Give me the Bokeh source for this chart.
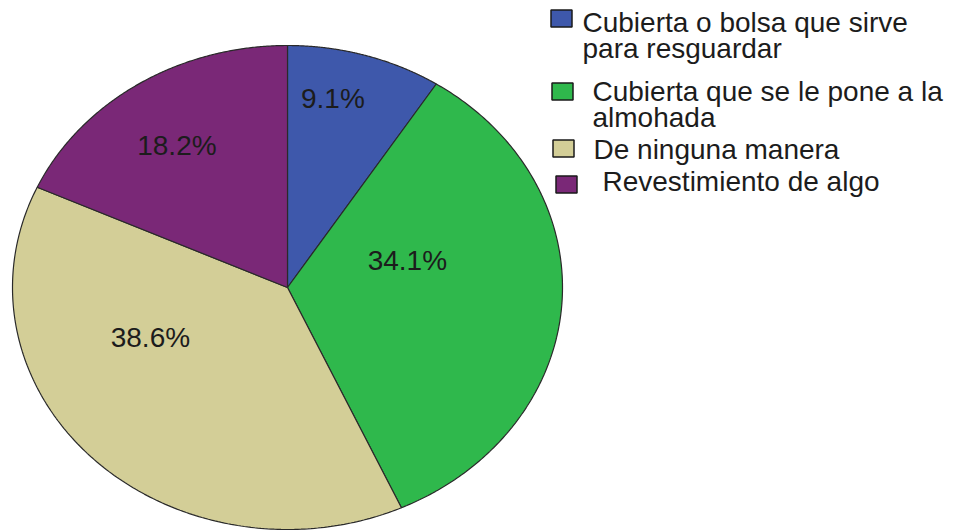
import numpy as np
from bokeh.plotting import figure
from bokeh.models import Range1d
from bokeh.core.properties import value
from bokeh.embed import file_html
from bokeh.resources import INLINE

# ---- data ----
categories = [
    "Cubierta o bolsa que sirve\npara resguardar",
    "Cubierta que se le pone a la\nalmohada",
    "De ninguna manera",
    "Revestimiento de algo",
]
percentages = [9.1, 34.1, 38.6, 18.2]
colors = ["#3e58ab", "#2fb84c", "#d3ce97", "#7a2877"]

# ---- layout (page pixels) ----
W, H = 955, 531
CX, CY, RX, RY = 287, 287, 275, 242
FONT = "Liberation Sans"
# label placement: (angle clockwise from 12 o'clock in degrees, fraction of radius)
label_polar = [(11.9, 0.80), (75.6, 0.45), (247.4, 0.54), (325.5, 0.71)]
# legend layout
leg_sq = [(561, 18), (562, 91), (563, 148), (566, 184)]
leg_txt = [(582, 6), (592, 75), (593, 133), (602, 165)]

p = figure(width=W, height=H, output_backend="svg", toolbar_location=None,
           x_range=Range1d(0, W), y_range=Range1d(H, 0),
           min_border=0, outline_line_color=None)
p.axis.visible = False
p.grid.visible = False
p.background_fill_color = "white"

# pie slices as elliptical wedges
total = sum(percentages)
ends = np.cumsum(percentages) / total * 2 * np.pi
starts = np.concatenate([[0], ends[:-1]])
xs, ys = [], []
for a0, a1 in zip(starts, ends):
    t = np.linspace(a0, a1, 200)
    xs.append(np.concatenate([[CX], CX + RX * np.sin(t), [CX]]).tolist())
    ys.append(np.concatenate([[CY], CY - RY * np.cos(t), [CY]]).tolist())
p.patches(xs, ys, fill_color=colors, line_color="#2a2a2a", line_width=1.2)

# percentage labels
lx, ly, lt = [], [], []
for (ang, fr), v in zip(label_polar, percentages):
    a = np.deg2rad(ang)
    lx.append(CX + fr * RX * np.sin(a))
    ly.append(CY - fr * RY * np.cos(a))
    lt.append(f"{v:.1f}%")
p.text(x=lx, y=ly, text=lt, text_font=value(FONT), text_font_size="28px",
       text_align="center", text_baseline="middle", text_color="#1c1c1c")

# legend
p.rect(x=[s[0] for s in leg_sq], y=[s[1] for s in leg_sq], width=21, height=17,
       fill_color=colors, line_color="#1a1a1a", line_width=1.5)
p.text(x=[t[0] for t in leg_txt], y=[t[1] for t in leg_txt], text=categories,
       text_font=value(FONT), text_font_size="28px", text_align="left",
       text_baseline="top", text_line_height=0.85, text_color="#1c1c1c")

open("out.html", "w").write(file_html(p, INLINE))
